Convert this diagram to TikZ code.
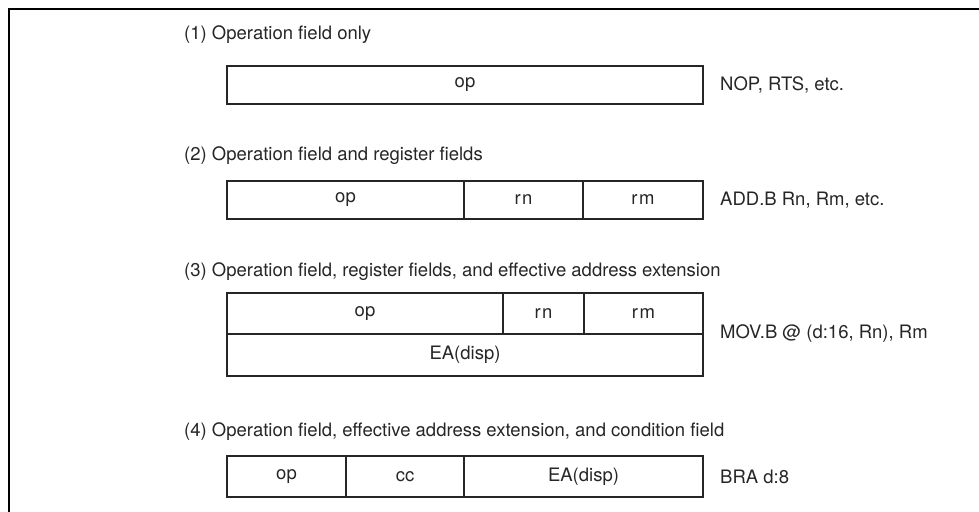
\documentclass[tikz,border=0pt]{standalone}
\usepackage{fontspec}
\setmainfont{TeX Gyre Heros}
\begin{document}
\begin{tikzpicture}[x=1pt,y=-1pt,
  cell/.style={draw=black!85, line width=2pt, anchor=north west,
    inner sep=0pt, outer sep=0pt, text=black!85,
    font=\fontsize{18.5}{20}\selectfont},
  heading/.style={anchor=west, inner sep=0pt, text=black!85,
    font=\fontsize{18.5}{20}\selectfont},
  example/.style={anchor=west, inner sep=0pt, text=black!85,
    font=\fontsize{18.5}{20}\selectfont},
  frameline/.style={draw=black, line width=2pt}
]
\useasboundingbox (0,0) rectangle (979,511);

% open frame: left side and top only
\coordinate (fb) at (9,512);
\coordinate (fc) at (9,9);
\coordinate (fr) at (980,9);
\draw[frameline] (fb) -- (fc) -- (fr);

% (1) operation field only
\node[heading] (t1) at (184,35) {(1) Operation field only};
\node[cell, minimum width=476pt, minimum height=38pt] (a-op) at (227,66) {op};
\node[example] (e1) at (720,85) {NOP, RTS, etc.};

% (2) operation field and register fields
\node[heading] (t2) at (184,156) {(2) Operation field and register fields};
\node[cell, minimum width=237pt, minimum height=38pt] (b-op) at (227,181) {op};
\node[cell, minimum width=119pt, minimum height=38pt] (b-rn) at (464,181) {\raisebox{-4pt}{r\kern1.5pt n}};
\node[cell, minimum width=120pt, minimum height=38pt] (b-rm) at (583,181) {r\kern1.5pt m};
\node[example] (e2) at (720,200) {ADD.B Rn, Rm, etc.};

% (3) operation field, register fields and EA extension
\node[heading] (t3) at (184,272) {(3) Operation field, register fields, and effective address extension};
\node[cell, minimum width=276pt, minimum height=41pt] (c-op) at (227,293) {op};
\node[cell, minimum width=81pt, minimum height=41pt] (c-rn) at (503,293) {r\kern1.5pt n};
\node[cell, minimum width=119pt, minimum height=41pt] (c-rm) at (584,293) {r\kern1.5pt m};
\node[cell, minimum width=476pt, minimum height=42pt] (c-ea) at (227,334) {EA(disp)};
\node[example] (e3) at (720,334) {MOV.B @ (d:16, Rn), Rm};

% (4) operation field, EA extension and condition field
\node[heading] (t4) at (184,432) {(4) Operation field, effective address extension, and condition field};
\node[cell, minimum width=119pt, minimum height=41pt] (d-op) at (227,456) {op};
\node[cell, minimum width=118pt, minimum height=41pt] (d-cc) at (346,456) {cc};
\node[cell, minimum width=239pt, minimum height=41pt] (d-ea) at (464,456) {EA(disp)};
\node[example] (e4) at (720,477) {BRA d:8};
\end{tikzpicture}
\end{document}
